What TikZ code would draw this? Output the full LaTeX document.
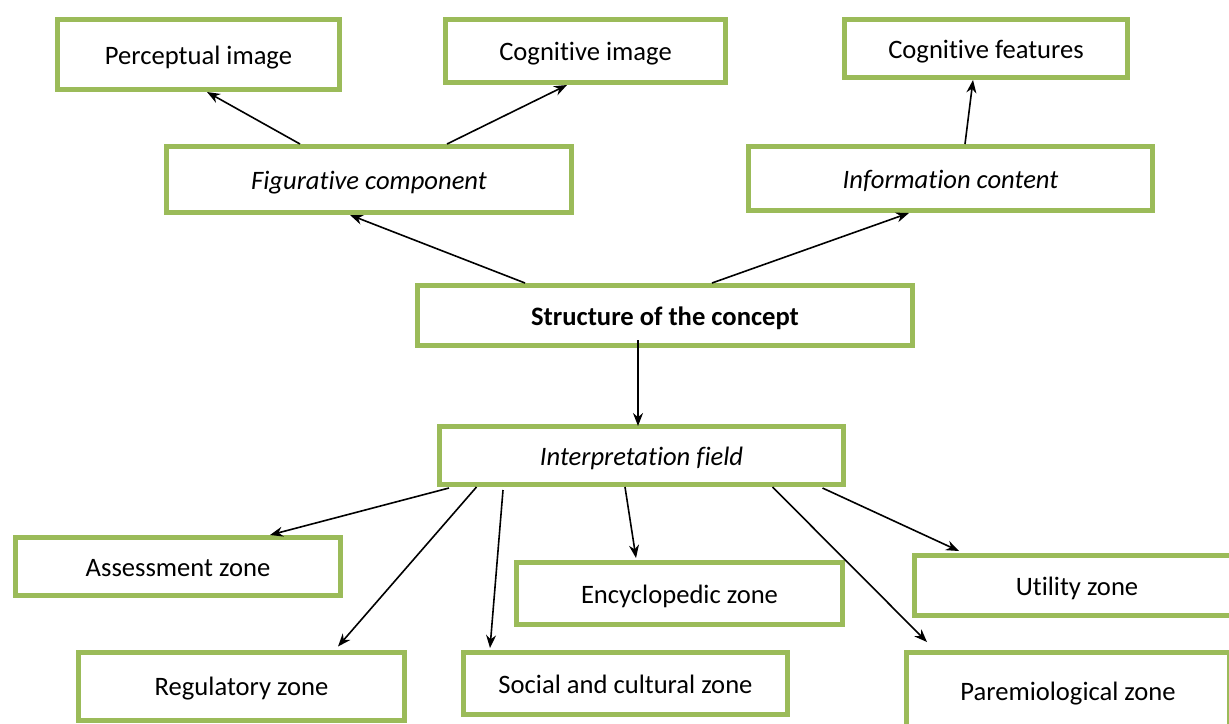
\documentclass[tikz,border=0pt]{standalone}
\usepackage{fontspec}
\setmainfont{Carlito}[Ligatures=NoCommon]
\usetikzlibrary{calc,arrows.meta}
\definecolor{boxgreen}{HTML}{9BBB59}
\begin{document}
\begin{tikzpicture}[x=0.5pt,y=-0.5pt,
  zbox/.style={draw=boxgreen, line width=2.5pt, fill=white, inner sep=0pt,
    text height=11.5pt, text depth=2pt,
    font=\fontsize{13.3}{16}\selectfont, align=center},
  arr/.style={draw=black, line width=0.8pt, -{Stealth[length=6.5pt,width=5pt]}}]
\useasboundingbox (0,0) rectangle (1229,723);
\clip (0,0) rectangle (1229,723);
\fill[white] (0,0) rectangle (1229,723);
% boxes
\node[zbox, minimum width=141pt, minimum height=35pt] (P) at (198.5,54.5) {Perceptual image};
\node[zbox, minimum width=140pt, minimum height=31.5pt] (CI) at (585.5,51) {Cognitive image};
\node[zbox, minimum width=141.5pt, minimum height=29pt] (CF) at (986,48.5) {Cognitive features};
\node[zbox, minimum width=202.5pt, minimum height=33pt] (F) at (369,179.5) {\itshape Figurative component};
\node[zbox, minimum width=202pt, minimum height=32pt] (I) at (950.5,178.5) {\itshape Information content};
\node[zbox, minimum width=247.5pt, minimum height=30pt] (S) at (665,315.5) {\bfseries Structure of the concept};
\node[zbox, minimum width=202pt, minimum height=29pt] (IF) at (641.5,455.5) {\itshape Interpretation field};
\node[zbox, minimum width=162.5pt, minimum height=29pt] (A) at (178,566.5) {Assessment zone};
\node[zbox, minimum width=163pt, minimum height=34pt] (R) at (241.5,686) {Regulatory zone};
\node[zbox, minimum width=162pt, minimum height=31pt] (So) at (625.5,683.5) {Social and cultural zone};
\node[zbox, minimum width=163pt, minimum height=31pt] (E) at (679.5,593.5) {Encyclopedic zone};
\node[zbox, minimum width=162.5pt, minimum height=30pt] (U) at (1077,585.5) {Utility zone};
\node[zbox, minimum width=161.5pt, minimum height=38.5pt] (Pa) at (1068,691) {Paremiological zone};
% connectors
\draw[arr] ($(F.north)+(-69,0)$) -- ($(P.south)+(8.5,0)$);
\draw[arr] ($(F.north)+(78,0)$) -- ($(CI.south)+(-18.5,0)$);
\draw[arr] ($(I.north)+(14.5,0)$) -- ($(CF.south)+(-13,0)$);
\draw[arr] ($(S.north)+(-140,0)$) -- ($(F.south)+(-19,0)$);
\draw[arr] ($(S.north)+(47,0)$) -- ($(I.south)+(-41.5,0)$);
\draw[arr] ($(S.south)+(-27,-8)$) -- ($(IF.north)+(-3.5,2)$);
\draw[arr] ($(IF.south)+(-192.5,1)$) -- ($(A.north)+(92,0)$);
\draw[arr] ($(IF.south)+(-165,0)$) -- ($(R.north)+(96.5,-3)$);
\draw[arr] ($(IF.south)+(-138.5,3)$) -- ($(So.north)+(-135.5,-2)$);
\draw[arr] ($(IF.south)+(-16.5,0)$) -- ($(E.north)+(-43.5,-2)$);
\draw[arr] ($(IF.south)+(131,0)$) -- ($(Pa.north)+(-141,-8)$);
\draw[arr] ($(IF.south)+(181,1)$) -- ($(U.north)+(-118,-2)$);
\end{tikzpicture}
\end{document}
